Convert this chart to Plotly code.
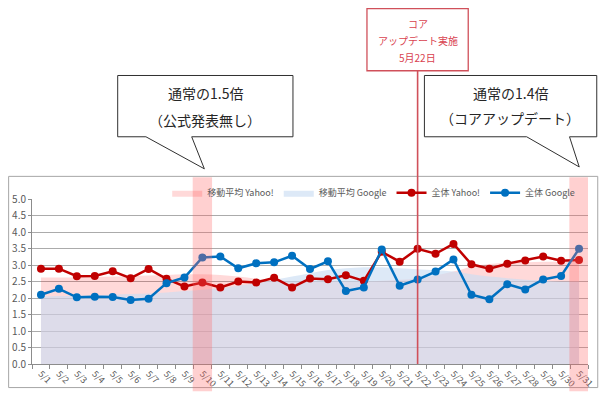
import plotly.graph_objects as go

dates = [f"5/{d}" for d in range(1, 32)]

yahoo_all = [2.89, 2.89, 2.66, 2.67, 2.81, 2.60, 2.88, 2.58, 2.35, 2.47,
             2.32, 2.50, 2.47, 2.61, 2.32, 2.59, 2.57, 2.69, 2.52, 3.40,
             3.10, 3.49, 3.34, 3.64, 3.02, 2.89, 3.04, 3.14, 3.26, 3.13, 3.15]
google_all = [2.10, 2.28, 2.02, 2.04, 2.03, 1.94, 1.98, 2.45, 2.62, 3.23,
              3.26, 2.90, 3.05, 3.08, 3.28, 2.88, 3.11, 2.21, 2.32, 3.47,
              2.37, 2.56, 2.80, 3.17, 2.10, 1.96, 2.42, 2.26, 2.56, 2.67, 3.49]
yahoo_ma = [2.62, 2.62, 2.63, 2.64, 2.65, 2.66, 2.68, 2.70, 2.72, 2.72,
            2.70, 2.65, 2.58, 2.52, 2.50, 2.50, 2.50, 2.50, 2.50, 2.52,
            2.55, 2.60, 2.68, 2.80, 2.95, 3.03, 3.06, 3.08, 3.10, 3.10, 3.10]
google_ma = [2.05, 2.06, 2.07, 2.08, 2.10, 2.12, 2.14, 2.17, 2.21, 2.25,
             2.30, 2.37, 2.45, 2.55, 2.65, 2.75, 2.85, 2.90, 2.93, 2.93,
             2.90, 2.87, 2.84, 2.80, 2.72, 2.65, 2.60, 2.55, 2.52, 2.50, 2.50]
y_ticks = [0.0, 0.5, 1.0, 1.5, 2.0, 2.5, 3.0, 3.5, 4.0, 4.5, 5.0]
highlight_days = ["5/10", "5/31"]
update_day = "5/22"

FONT = "Noto Sans CJK JP"
W, H = 608, 402
L, R, T, B = 25, 596, 199, 374   # plot area in pixels


def px(x):
    return (x - L) / (R - L)


def py(y):
    return (B - y) / (B - T)


fig = go.Figure()
fig.add_trace(go.Scatter(x=dates, y=yahoo_ma, name="移動平均 Yahoo!", mode="lines",
                         line=dict(width=0, shape="spline", color="rgba(255,0,0,0.15)"),
                         fill="tozeroy", fillcolor="rgba(255,0,0,0.15)"))
fig.add_trace(go.Scatter(x=dates, y=google_ma, name="移動平均 Google", mode="lines",
                         line=dict(width=0, shape="spline", color="rgba(204,222,243,0.66)"),
                         fill="tozeroy", fillcolor="rgba(204,222,243,0.66)"))
fig.add_trace(go.Scatter(x=dates, y=yahoo_all, name="全体 Yahoo!", mode="lines+markers",
                         line=dict(width=2.5, color="#C00000"),
                         marker=dict(size=8, color="#C00000")))
fig.add_trace(go.Scatter(x=dates, y=google_all, name="全体 Google", mode="lines+markers",
                         line=dict(width=2.5, color="#0070C0"),
                         marker=dict(size=8, color="#0070C0")))

shapes = []
# outer chart border
shapes.append(dict(type="rect", xref="paper", yref="paper", x0=px(1), x1=px(606),
                   y0=py(399), y1=py(175), line=dict(color="#A6A6A6", width=1),
                   layer="below"))
# highlight bands
for d in highlight_days:
    i = dates.index(d)
    shapes.append(dict(type="rect", xref="x", yref="paper", x0=i - 0.54, x1=i + 0.54,
                       y0=py(403), y1=py(176), fillcolor="rgba(255,100,100,0.30)",
                       line=dict(width=0), layer="above"))
# update line
iu = dates.index(update_day)
shapes.append(dict(type="line", xref="x", yref="paper", x0=iu, x1=iu,
                   y0=0, y1=py(63), line=dict(color="#D0505A", width=1.6), layer="above"))
# update box
shapes.append(dict(type="rect", xref="paper", yref="paper", x0=px(369), x1=px(473),
                   y0=py(63), y1=py(-3), fillcolor="white",
                   line=dict(color="#D0505A", width=1.3), layer="above"))


def callout(pts):
    p = "M " + " L ".join(f"{px(a):.5f},{py(b):.5f}" for a, b in pts) + " Z"
    return dict(type="path", xref="paper", yref="paper", path=p, fillcolor="white",
                line=dict(color="#303030", width=1), layer="above")


shapes.append(callout([(113, 68), (293, 68), (293, 133), (189, 133), (202, 167),
                       (142, 133), (113, 133)]))
shapes.append(callout([(428, 68), (605, 68), (605, 133), (577, 133), (587, 165),
                       (533, 133), (428, 133)]))

annotations = []


def text(x, y, s, color="#262626", size=12.5):
    annotations.append(dict(xref="paper", yref="paper", x=px(x), y=py(y), text=s,
                            showarrow=False, xanchor="center", yanchor="middle",
                            font=dict(family=FONT, size=size, color=color)))


text(203, 87, "通常の1.5倍", size=14)
text(203, 115, "（公式発表無し）", size=14)
text(516, 87, "通常の1.4倍", size=14)
text(516, 113, "（コアアップデート）", size=14)
text(421, 13, "コア", color="#D9424F", size=10)
text(421, 31, "アップデート実施", color="#D9424F", size=10)
text(421, 49, "5月22日", color="#D9424F", size=10)

fig.update_layout(
    width=W, height=H,
    margin=dict(l=L, r=W - R, t=T, b=H - B),
    paper_bgcolor="white", plot_bgcolor="white",
    font=dict(family=FONT, size=9, color="#595959"),
    showlegend=True,
    legend=dict(orientation="h", x=px(588), y=py(177), xanchor="right", yanchor="top",
                font=dict(size=9, color="#595959"), bgcolor="rgba(0,0,0,0)",
                itemwidth=30, tracegroupgap=0),
    shapes=shapes,
    annotations=annotations,
    xaxis=dict(type="category", range=[-0.5, 30.5], tickangle=45,
               showgrid=False, showline=True, linecolor="#8C8C8C", linewidth=1,
               ticks="outside", tickson="boundaries", ticklen=4, tickcolor="#8C8C8C",
               tickfont=dict(size=9, color="#595959")),
    yaxis=dict(range=[0, 5.0], tickvals=y_ticks, tickformat=".1f",
               showgrid=True, gridcolor="#ABABAB", gridwidth=1,
               showline=True, linecolor="#8C8C8C", linewidth=1,
               ticks="outside", ticklen=3, tickcolor="#8C8C8C",
               zeroline=False, tickfont=dict(size=10, color="#595959")),
)

fig.write_html("out.html")
